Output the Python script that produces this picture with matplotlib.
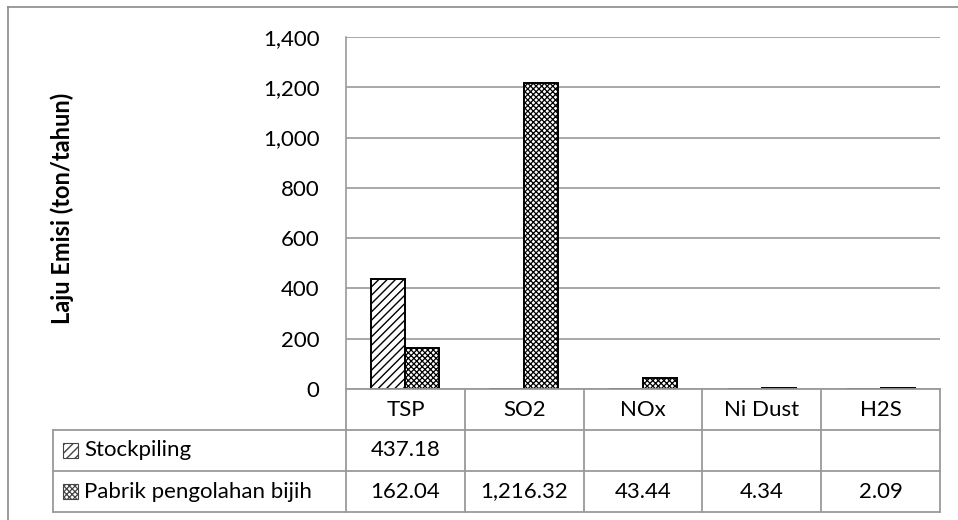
import matplotlib
matplotlib.use("Agg")
import matplotlib.pyplot as plt
from matplotlib.patches import Rectangle
import numpy as np

# ---------------- data ----------------
categories = ["TSP", "SO2", "NOx", "Ni Dust", "H2S"]
series_names = ["Stockpiling", "Pabrik pengolahan bijih"]
stockpiling = [437.18, None, None, None, None]
pabrik = [162.04, 1216.32, 43.44, 4.34, 2.09]
series_values = [stockpiling, pabrik]
hatches = ["////", "xxxxxx"]
hatch_lws = [1.0, 0.9]
y_ticks = [0, 200, 400, 600, 800, 1000, 1200, 1400]
y_label = "Laju Emisi (ton/tahun)"

# ---------------- layout (pixels) ----------------
W, H = 958, 520
PL, PR, PT, PB = 346, 940, 37, 389
TL = 53            # table left edge
ROW = 41           # row height
GRID = "#9a9a9a"
FONT = "Lato"
FS = 16

plt.rcParams["font.family"] = [FONT, "DejaVu Sans"]

fig = plt.figure(figsize=(W / 100, H / 100), dpi=100)
fig.patch.set_facecolor("white")


def set_hlw(p, lw):
    if hasattr(p, "set_hatch_linewidth"):
        p.set_hatch_linewidth(lw)


ax = fig.add_axes([PL / W, 1 - PB / H, (PR - PL) / W, (PB - PT) / H])
n = len(categories)
x = np.arange(n)
bw = 1 / 3.5
for s, (vals, hat, hlw) in enumerate(zip(series_values, hatches, hatch_lws)):
    v = np.array([np.nan if a is None else a for a in vals], dtype=float)
    with plt.rc_context({"hatch.linewidth": hlw}):
        bars = ax.bar(x + (s - 0.5) * bw, np.nan_to_num(v), width=bw,
                      facecolor="white", edgecolor="black", linewidth=1.4,
                      hatch=hat, zorder=3)
    for b in bars:
        set_hlw(b, hlw)

ax.set_xlim(-0.5, n - 0.5)
ax.set_ylim(y_ticks[0], y_ticks[-1])
ax.set_yticks(y_ticks)
ax.set_yticklabels([f"{t:,}" for t in y_ticks], fontsize=FS)
ax.set_xticks([])
ax.tick_params(axis="y", length=0, pad=19)
ax.yaxis.grid(True, color=GRID, linewidth=1.2)
ax.set_axisbelow(True)
for sp in ["top", "right", "bottom"]:
    ax.spines[sp].set_visible(False)
ax.spines["left"].set_color(GRID)
ax.spines["left"].set_linewidth(1.2)

# ---------------- overlay: table, border, label ----------------
ov = fig.add_axes([0, 0, 1, 1], zorder=5)
ov.set_xlim(0, W)
ov.set_ylim(H, 0)
ov.axis("off")
ov.patch.set_alpha(0)

# outer chart border (cropped at right / bottom)
ov.plot([8, 8], [7, H], color="#8a8a8a", lw=1.2)
ov.plot([8, W], [7, 7], color="#8a8a8a", lw=1.2)

cw = (PR - PL) / n
rows_y = [PB, PB + ROW, PB + 2 * ROW, PB + 3 * ROW]
lw = 1.3
ov.plot([PL, PR], [rows_y[0], rows_y[0]], color=GRID, lw=lw)
for yy in rows_y[1:]:
    ov.plot([TL, PR], [yy, yy], color=GRID, lw=lw)
for i in range(n + 1):
    xx = PL + i * cw
    ov.plot([xx, xx], [rows_y[0], rows_y[-1]], color=GRID, lw=lw)
ov.plot([TL, TL], [rows_y[1], rows_y[-1]], color=GRID, lw=lw)

for i, c in enumerate(categories):
    ov.text(PL + (i + 0.5) * cw, (rows_y[0] + rows_y[1]) / 2, c, ha="center",
            va="center", fontsize=FS)

for s, (name, vals, hat, hlw) in enumerate(zip(series_names, series_values,
                                               hatches, hatch_lws)):
    yc = (rows_y[s + 1] + rows_y[s + 2]) / 2
    with plt.rc_context({"hatch.linewidth": hlw}):
        r = Rectangle((63, yc - 7.5), 15, 15, facecolor="white",
                      edgecolor="#444444", lw=0.8, hatch=hat)
    set_hlw(r, hlw)
    ov.add_patch(r)
    ov.text(84, yc, name, ha="left", va="center", fontsize=FS)
    for i, v in enumerate(vals):
        if v is None:
            continue
        ov.text(PL + (i + 0.5) * cw, yc, f"{v:,.2f}", ha="center", va="center",
                fontsize=FS)

ov.text(62, (PT + PB) / 2 - 5, y_label, rotation=90, ha="center", va="center",
        fontsize=17, fontweight="bold")

fig.savefig("out.png", dpi=100, facecolor="white")
